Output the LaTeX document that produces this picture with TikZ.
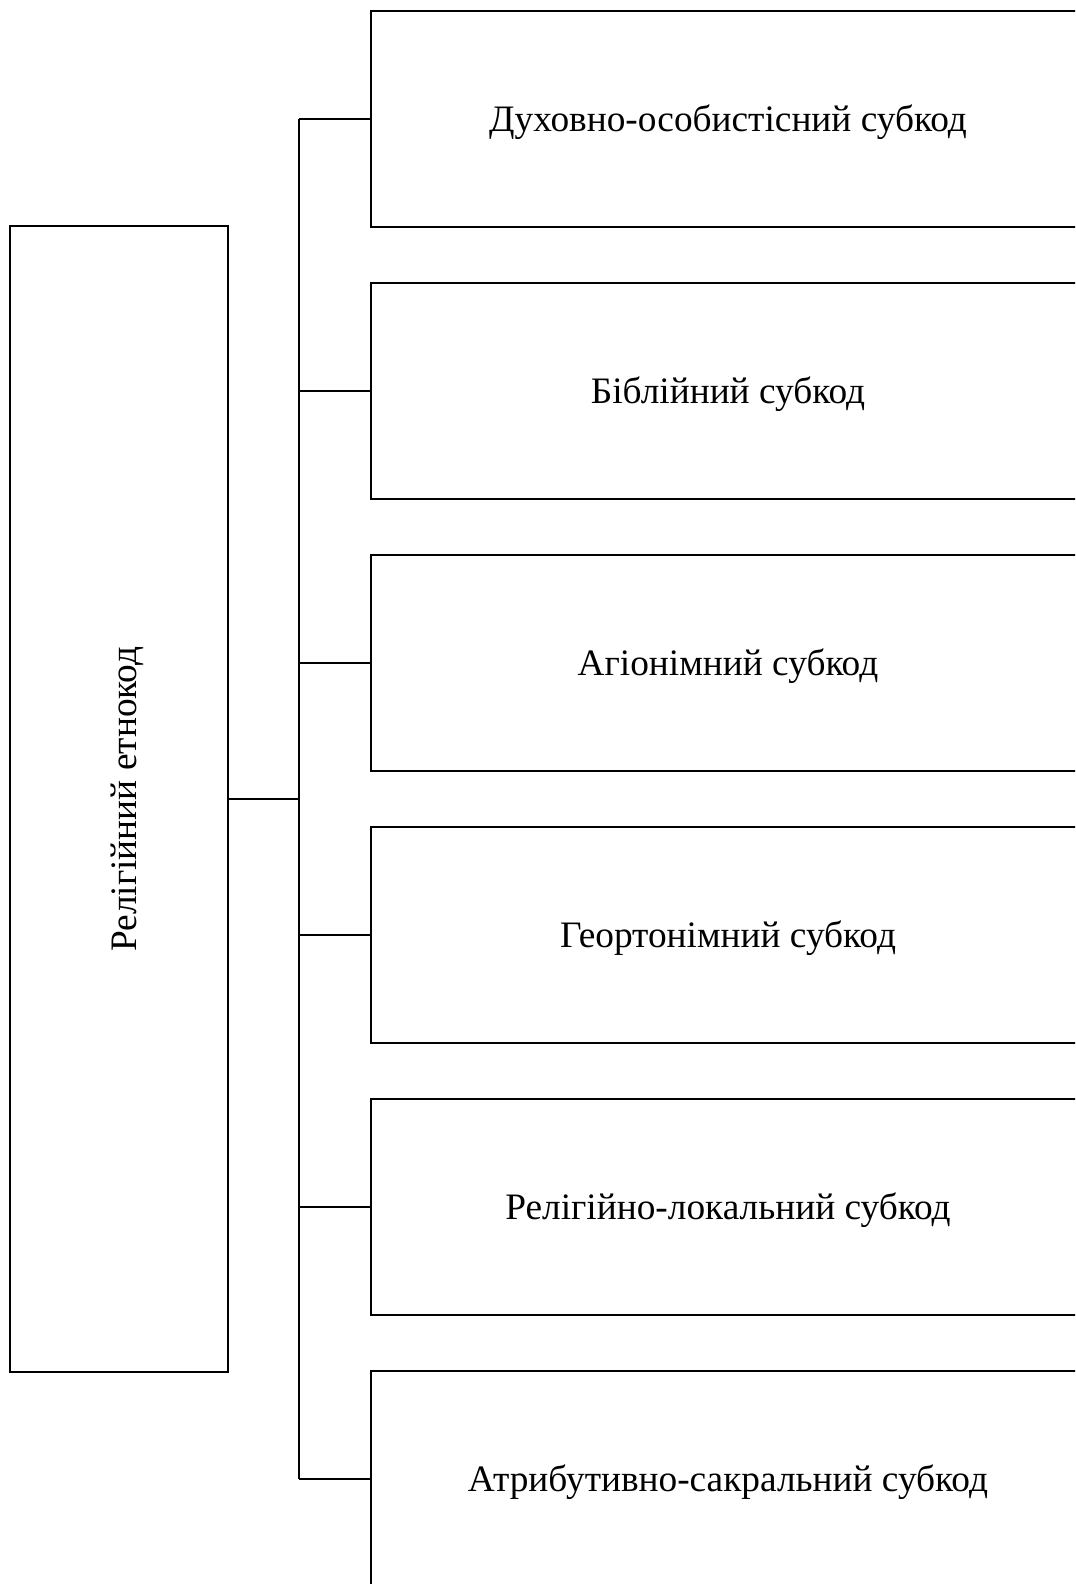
\documentclass[tikz,border=0pt]{standalone}
\usepackage{fontspec}
\setmainfont{Liberation Serif}
\usetikzlibrary{positioning}

\begin{document}
\begin{tikzpicture}
      [
        x=0.3pt, y=-0.3pt,
        line width=0.7pt,
        subcode/.style={draw, minimum width=214.2pt, minimum height=64.8pt, inner sep=0pt,
          text height=8pt, text depth=2.5pt, font=\fontsize{11.2}{13}\selectfont},
        ethnocode/.style={draw, rotate=90, minimum width=343.8pt, minimum height=65.4pt, inner sep=0pt,
          text height=8pt, text depth=2.5pt, font=\fontsize{11.2}{13}\selectfont}
      ]
      \useasboundingbox (0,0) rectangle (1075,1584);
      \clip (0,0) rectangle (1075,1584);
      % main code
      \node [ethnocode] (rel) at (119,799) {\raisebox{-2.6pt}{Релігійний етнокод}};
      % subcodes
      \node [subcode] (c1) at (728,119) {\raisebox{-1pt}{Духовно-особистісний субкод}};
      \node [subcode] (c2) at (728,391) {\raisebox{-1pt}{Біблійний субкод}};
      \node [subcode] (c3) at (728,663) {\raisebox{-1pt}{Агіонімний субкод}};
      \node [subcode] (c4) at (728,935) {\raisebox{-1pt}{Геортонімний субкод}};
      \node [subcode] (c5) at (728,1207) {\raisebox{-1pt}{Релігійно-локальний субкод}};
      \node [subcode] (c6) at (728,1479) {\raisebox{-1pt}{Атрибутивно-сакральний субкод}};
      % edges
      \coordinate (trunk) at (299,799);
      \draw (rel.south) -- (trunk);
      \draw (c1.west -| trunk) -- (c6.west -| trunk);
      \foreach \i in {1,...,6} {
          \draw (c\i.west) -- (c\i.west -| trunk);
      }
\end{tikzpicture}
\end{document}
